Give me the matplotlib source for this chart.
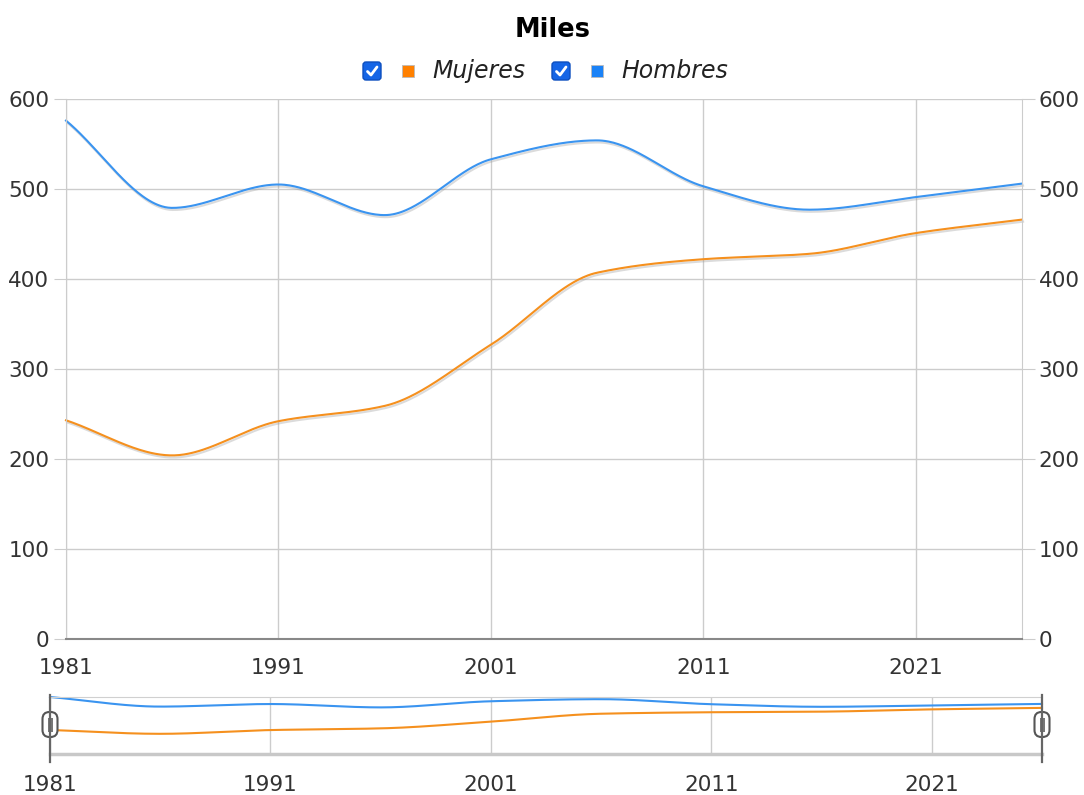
import numpy as np
import matplotlib
matplotlib.use("Agg")
import matplotlib.pyplot as plt
from matplotlib.patches import FancyBboxPatch, Rectangle
import matplotlib.patheffects as pe

years = [1981, 1986, 1991, 1996, 2001, 2006, 2011, 2016, 2021, 2026]
mujeres = [243, 204, 242, 259, 327, 407, 422, 428, 451, 466]
hombres = [576, 479, 505, 471, 533, 554, 503, 477, 491, 506]
xticks = [1981, 1991, 2001, 2011, 2021]
yticks = [0, 100, 200, 300, 400, 500, 600]
title = "Miles"
series_names = ["Mujeres", "Hombres"]
colors = ["#F5901E", "#3A94F0"]
legend_colors = ["#FF8000", "#1A82F7"]


def pchip(x, y, xs):
    x = np.asarray(x, float); y = np.asarray(y, float)
    h = np.diff(x); d = np.diff(y) / h
    n = len(x); m = np.zeros(n)
    for k in range(1, n - 1):
        if d[k - 1] * d[k] > 0:
            w1 = 2 * h[k] + h[k - 1]; w2 = h[k] + 2 * h[k - 1]
            m[k] = (w1 + w2) / (w1 / d[k - 1] + w2 / d[k])
    m[0] = d[0]; m[-1] = d[-1]
    idx = np.clip(np.searchsorted(x, xs) - 1, 0, n - 2)
    t = (xs - x[idx]) / h[idx]
    h00 = 2 * t**3 - 3 * t**2 + 1; h10 = t**3 - 2 * t**2 + t
    h01 = -2 * t**3 + 3 * t**2; h11 = t**3 - t**2
    return h00 * y[idx] + h10 * h[idx] * m[idx] + h01 * y[idx + 1] + h11 * h[idx] * m[idx + 1]


W, H = 1084, 795
fig = plt.figure(figsize=(W / 100, H / 100), dpi=100)
fig.patch.set_facecolor("white")

tick_col = "#333333"
grid_col = "#CCCCCC"
fs = 15.5

xs = np.linspace(years[0], years[-1], 600)

# main axes
ax = fig.add_axes([66 / W, 1 - 639 / H, 956 / W, 540 / H])
ax.set_xlim(years[0], years[-1])
ax.set_ylim(0, 600)
ax.set_xticks(xticks)
ax.set_yticks(yticks)
ax.grid(True, color=grid_col, lw=1)
ax.set_axisbelow(True)
ax.spines["top"].set_visible(False)
ax.spines["left"].set_color(grid_col)
ax.spines["right"].set_color(grid_col)
ax.spines["bottom"].set_color("#888888")
ax.spines["bottom"].set_linewidth(1.5)
ax.tick_params(axis="x", length=0, pad=14, labelsize=fs, labelcolor=tick_col)
ax.tick_params(axis="y", length=9, color=grid_col, pad=3, labelsize=fs, labelcolor=tick_col,
               right=True, labelright=True)
for vals, c in zip([mujeres, hombres], colors):
    ax.plot(xs, pchip(years, vals, xs), color=c, lw=1.5, clip_on=False,
            path_effects=[pe.SimpleLineShadow(offset=(0.8, -1.5), shadow_color="#999999", alpha=0.35),
                          pe.Normal()])

# navigator
nav = fig.add_axes([50 / W, 1 - 754 / H, 992 / W, 57 / H])
nav.set_xlim(years[0], years[-1])
nav.set_ylim(0, max(hombres))
nav.set_xticks(xticks)
nav.set_yticks([])
nav.grid(True, axis="x", color=grid_col, lw=1)
nav.set_axisbelow(True)
for s in ["left", "right"]:
    nav.spines[s].set_visible(False)
nav.spines["top"].set_color("#D0D0D0")
nav.spines["bottom"].set_color("#C8C8C8")
nav.spines["bottom"].set_linewidth(2.5)
nav.tick_params(axis="x", length=0, pad=15, labelsize=fs, labelcolor=tick_col)
for vals, c in zip([mujeres, hombres], colors):
    nav.plot(xs, pchip(years, vals, xs), color=c, lw=1.5, clip_on=False)

# overlay for legend/handles
ov = fig.add_axes([0, 0, 1, 1])
ov.set_xlim(0, W)
ov.set_ylim(H, 0)
ov.axis("off")
ov.patch.set_alpha(0)

# navigator handles
for hx in [50, 1042]:
    ov.plot([hx, hx], [695, 762], color="#666666", lw=1.6)
    ov.add_patch(FancyBboxPatch((hx - 7.5, 712), 15, 25, boxstyle="round,pad=0,rounding_size=7",
                                fc="white", ec="#555555", lw=1.5))
    ov.add_patch(Rectangle((hx - 2.5, 718), 5, 14, fc="#777777", ec="none"))

# title
ov.text(553, 30, title, ha="center", va="center", fontsize=18.5, fontweight="bold", color="black")

# legend
items = [(372, series_names[0], legend_colors[0]), (561, series_names[1], legend_colors[1])]
for cx, name, col in items:
    ov.add_patch(FancyBboxPatch((cx - 9, 62), 18, 18, boxstyle="round,pad=0,rounding_size=3",
                                fc="#1565E6", ec="#0D4FBF", lw=1))
    ov.plot([cx - 4.5, cx - 1, cx + 5], [71.5, 75, 67], color="white", lw=2, solid_capstyle="round")
    ov.add_patch(Rectangle((cx + 30, 65), 12, 12, fc=col, ec="#BBBBBB", lw=0.6))
    ov.text(cx + 60, 71, name, ha="left", va="center", fontsize=17, style="italic", color="#222222")

fig.savefig("out.png", dpi=100, facecolor="white")
